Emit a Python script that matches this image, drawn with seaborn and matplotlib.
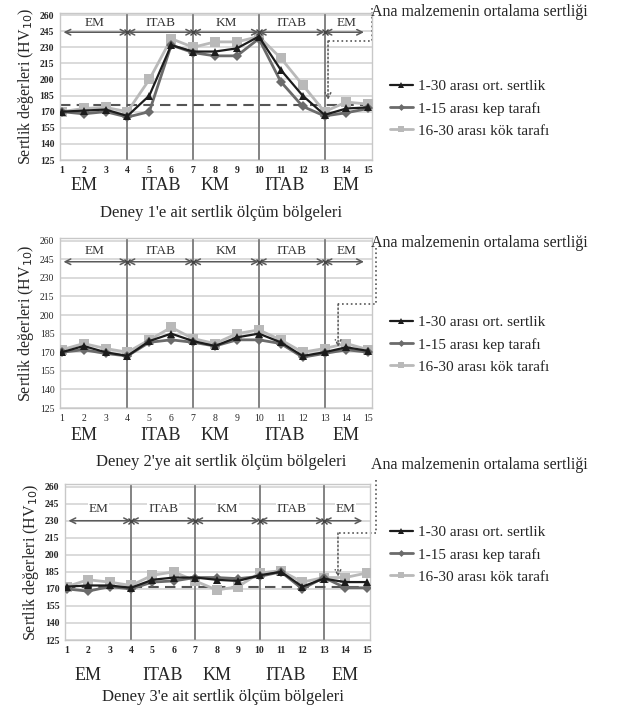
import numpy as np
import pandas as pd
import matplotlib.pyplot as plt
import seaborn as sns

sns.set_style("white")
plt.rcParams['font.family'] = ['Liberation Serif', 'DejaVu Serif']

points = list(range(1, 16))

# Deney 1
d1_avg = [170, 171, 172, 166, 185, 232, 226, 226, 229, 240, 209, 185, 167, 173, 174]
d1_kep = [170, 168, 170, 165, 170, 232, 225, 222, 222, 238, 198, 175, 166, 169, 173]
d1_kok = [170, 173, 174, 170, 200, 238, 230, 235, 235, 240, 220, 195, 170, 179, 177]
# Deney 2
d2_avg = [170, 175, 170, 167, 179, 185, 179, 175, 182, 185, 178, 167, 170, 174, 171]
d2_kep = [170, 172, 169, 167, 178, 180, 178, 175, 180, 180, 177, 166, 169, 172, 170]
d2_kok = [172, 177, 173, 170, 180, 190, 181, 177, 185, 188, 180, 170, 173, 177, 172]
# Deney 3
d3_avg = [172, 173, 173, 171, 178, 180, 180, 178, 177, 182, 185, 172, 179, 176, 176]
d3_kep = [170, 168, 172, 170, 176, 177, 180, 180, 179, 181, 185, 170, 180, 171, 171]
d3_kok = [172, 178, 176, 173, 182, 185, 177, 169, 172, 184, 186, 176, 180, 180, 184]

base_hardness = [176, None, 172]   # dashed reference line (hidden in Deney 2)
region_names = ["EM", "ITAB", "KM", "ITAB", "EM"]
region_bounds = [1, 4, 7, 10, 13, 15]
region_x_below = [2, 5.5, 8, 11.2, 14]
arrow_level = [244, 243, 230]
label_level = [253, 252, 240]
captions = ["Deney 1'e ait sertlik ölçüm bölgeleri",
            "Deney 2'ye ait sertlik ölçüm bölgeleri",
            "Deney 3'e ait sertlik ölçüm bölgeleri"]
series_names = ["1-30 arası ort. sertlik", "1-15 arası kep tarafı", "16-30 arası kök tarafı"]
yticks = list(range(125, 261, 15))

data = [(d1_avg, d1_kep, d1_kok), (d2_avg, d2_kep, d2_kok), (d3_avg, d3_kep, d3_kok)]

W, H = 635, 708
fig = plt.figure(figsize=(6.35, 7.08), dpi=100)

# axes boxes in pixels: left, right, top(262), bottom(125)
boxes = [(60, 371.6, 12.9, 160), (60, 371.6, 238.2, 408), (65, 369.9, 484.4, 640)]
ann_text_y = [12, 243, 465]
legend_y = [72, 308, 518]
dotted = [([15.17, 15.17, 13.16], [266.5, 235.8, 235.8], 180.9),
          ([15.35, 15.35, 13.62], [254, 208.9, 208.9], 174.2),
          ([15.43, 15.43, 13.66], [266, 219.2, 219.2], 180.5)]
region_label_y = [185, 435, 675]
caption_y = [213, 462, 697]

colors = {"avg": "#1c1c1c", "kep": "#6b6b6b", "kok": "#b9b9b9"}

for i, (avg, kep, kok) in enumerate(data):
    l, r, t, b = boxes[i]
    ax = fig.add_axes([l / W, 1 - b / H, (r - l) / W, (b - t) / H])
    df = pd.DataFrame({"nokta": points, "avg": avg, "kep": kep, "kok": kok})

    for yv in yticks:
        ax.axhline(yv, color="#d4d4d4", lw=1.2, zorder=0)
    for xv in region_bounds[1:-1]:
        ax.axvline(xv, color="#7a7a7a", lw=1.3, zorder=1)

    if base_hardness[i] is not None:
        ax.axhline(base_hardness[i], color="#555555", lw=1.5, ls=(0, (5, 3)), zorder=2)

    sns.lineplot(data=df, x="nokta", y="kok", ax=ax, color=colors["kok"], marker="s",
                 markersize=7, markeredgewidth=0, lw=2, label=series_names[2], zorder=3)
    sns.lineplot(data=df, x="nokta", y="kep", ax=ax, color=colors["kep"], marker="D",
                 markersize=5, markeredgewidth=0, lw=2, label=series_names[1], zorder=4)
    sns.lineplot(data=df, x="nokta", y="avg", ax=ax, color=colors["avg"], marker="^",
                 markersize=6, markeredgewidth=0, lw=1.6, label=series_names[0], zorder=5)

    # region arrows and labels
    ya = arrow_level[i]
    for k in range(5):
        x0 = region_bounds[k] + (0.08 if k == 0 else 0)
        x1 = region_bounds[k + 1] - (0.2 if k == 4 else 0)
        ax.annotate("", xy=(x1, ya), xytext=(x0, ya),
                    arrowprops=dict(arrowstyle="<->", color="#5a5a5a", lw=1.1,
                                    shrinkA=0, shrinkB=0))
        ax.text((region_bounds[k] + region_bounds[k + 1]) / 2, label_level[i], region_names[k],
                ha="center", va="center", fontsize=9.5, color="#333333",
                bbox=dict(facecolor="white", edgecolor="none", pad=0.5))
    ax.plot(region_bounds[1:-1], [ya] * 4, ls="none", marker="x", color="#444444",
            markersize=5, zorder=6)

    # dotted pointer from the annotation text
    xs, ys, tip = dotted[i]
    ax.plot(xs, ys, ls=":", color="#555555", lw=1.2, clip_on=False)
    ax.annotate("", xy=(xs[-1], tip), xytext=(xs[-1], ys[-1]),
                arrowprops=dict(arrowstyle="->", color="#555555", lw=1.1, ls=":",
                                shrinkA=0, shrinkB=0), annotation_clip=False)

    ax.set_xlim(0.92, 15.15)
    ax.set_ylim(125, 262)
    ax.set_xticks(points)
    ax.set_yticks(yticks)
    ax.tick_params(axis="both", labelsize=7, length=0, pad=4)
    for lab in ax.get_xticklabels() + ax.get_yticklabels():
        lab.set_fontweight("bold" if i != 1 else "normal")
    ax.set_xlabel("")
    ax.set_ylabel("Sertlik değerleri (HV$_{10}$)", fontsize=11.5, labelpad=3)
    for s in ax.spines.values():
        s.set_color("#c8c8c8")
        s.set_linewidth(1)

    handles, labels = ax.get_legend_handles_labels()
    order = [2, 1, 0]
    ax.legend([handles[j] for j in order], [labels[j] for j in order],
              loc="upper left", bbox_to_anchor=(382 / W, 1 - legend_y[i] / H),
              bbox_transform=fig.transFigure, frameon=False, fontsize=11,
              handlelength=1.5, handletextpad=0.35, labelspacing=0.55, borderpad=0,
              markerscale=0.7)

    fig.text(371 / W, 1 - ann_text_y[i] / H, "Ana malzemenin ortalama sertliği",
             fontsize=11.5, va="center", ha="left")

    # region names under the axis and caption
    for name, xr in zip(region_names, region_x_below):
        ax.annotate(name, xy=(xr, 0), xycoords=("data", "axes fraction"),
                    xytext=(0, -(region_label_y[i] - b)), textcoords="offset pixels",
                    ha="center", va="center", fontsize=13, annotation_clip=False)
    fig.text(((l + r) / 2 + 5) / W, 1 - caption_y[i] / H, captions[i],
             fontsize=12, ha="center", va="center")

fig.savefig("out.png", dpi=100)
